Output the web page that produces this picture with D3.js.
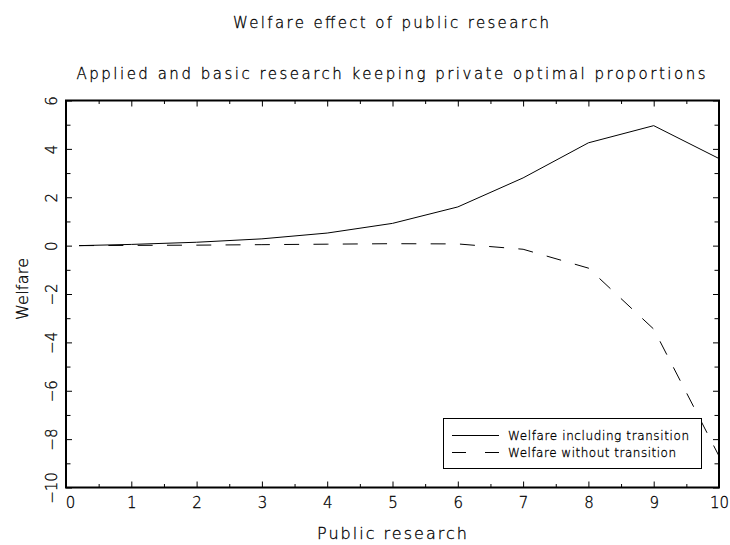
<!DOCTYPE html>
<html>
<head>
<meta charset="utf-8">
<script src="https://cdn.jsdelivr.net/npm/d3@7"></script>
<style>
  html, body { margin: 0; padding: 0; background: #fff; }
  svg text { font-family: "DejaVu Sans", "Liberation Sans", sans-serif; font-weight: 200; fill: #000; stroke: #000; stroke-width: 0.3px; }
</style>
</head>
<body>
<svg id="chart" width="730" height="545"></svg>
<script>
// Public research levels and the two welfare series
const publicResearch = [0.2, 1, 2, 3, 4, 5, 6, 7, 8, 9, 10];
const welfareIncluding = [0, 0.05, 0.14, 0.28, 0.52, 0.92, 1.6, 2.8, 4.25, 4.96, 3.6];
const welfareWithout   = [0, 0.01, 0.02, 0.04, 0.06, 0.08, 0.07, -0.15, -0.93, -3.45, -8.7];

const xMajorTicks = [0, 1, 2, 3, 4, 5, 6, 7, 8, 9, 10];
const xMinorTicks = [0.5, 1.5, 2.5, 3.5, 4.5, 5.5, 6.5, 7.5, 8.5, 9.5];
const yMajorTicks = [-10, -8, -6, -4, -2, 0, 2, 4, 6];
const yMinorTicks = [-9, -7, -5, -3, -1, 1, 3, 5];

const titleText = "Welfare effect of public research";
const subtitleText = "Applied and basic research keeping private optimal proportions";
const xTitle = "Public research";
const yTitle = "Welfare";
const seriesNames = ["Welfare including transition", "Welfare without transition"];

const svg = d3.select("#chart");
const plotLeft = 66, plotRight = 719, plotTop = 100.5, plotBottom = 487.5;

const x = d3.scaleLinear().domain([0, 10]).range([plotLeft, plotRight]);
const y = d3.scaleLinear().domain([-10, 6]).range([plotBottom, plotTop]);

const fmt = v => (v < 0 ? "\u2212" + Math.abs(v) : String(v));

// Titles
svg.append("text").attr("x", 391).attr("y", 28)
  .attr("text-anchor", "middle").attr("font-size", 15)
  .attr("textLength", 316).attr("lengthAdjust", "spacing")
  .text(titleText);
svg.append("text").attr("x", 391).attr("y", 79)
  .attr("text-anchor", "middle").attr("font-size", 15)
  .attr("textLength", 629).attr("lengthAdjust", "spacing")
  .text(subtitleText);

// Ticks pointing into the plot on all four sides
function tickAxis(axisFn, scale, values, size, tx, ty) {
  const g = svg.append("g").attr("transform", `translate(${tx},${ty})`)
    .call(axisFn(scale).tickValues(values).tickSize(size).tickFormat(""));
  g.select(".domain").remove();
  g.selectAll(".tick line").attr("stroke", "#000").attr("stroke-width", 1);
  return g;
}
tickAxis(d3.axisBottom, x, xMajorTicks, -6, 0, plotBottom);
tickAxis(d3.axisBottom, x, xMinorTicks, -3.5, 0, plotBottom);
tickAxis(d3.axisTop, x, xMajorTicks, -6, 0, plotTop);
tickAxis(d3.axisTop, x, xMinorTicks, -3.5, 0, plotTop);
tickAxis(d3.axisLeft, y, yMajorTicks, -6, plotLeft, 0);
tickAxis(d3.axisLeft, y, yMinorTicks, -4.5, plotLeft, 0);
tickAxis(d3.axisRight, y, yMajorTicks, -6, plotRight, 0);
tickAxis(d3.axisRight, y, yMinorTicks, -4.5, plotRight, 0);

// X tick labels
const xLab = svg.append("g").attr("transform", `translate(0,${plotBottom})`)
  .call(d3.axisBottom(x).tickValues(xMajorTicks).tickSize(0).tickPadding(10).tickFormat(fmt));
xLab.select(".domain").remove();
xLab.selectAll("text").attr("font-size", 15).attr("font-family", null)
  .attr("dx", d => (d === 0 ? 4 : 0));

// Y tick labels, rotated
const yLab = svg.append("g").attr("transform", `translate(${plotLeft},0)`)
  .call(d3.axisLeft(y).tickValues(yMajorTicks).tickSize(0).tickFormat(fmt));
yLab.select(".domain").remove();
yLab.selectAll("text")
  .attr("x", null).attr("dy", null)
  .attr("font-size", 15).attr("font-family", null)
  .attr("text-anchor", "middle")
  .attr("transform", "translate(-9,0) rotate(-90)");

// Axis titles
svg.append("text").attr("x", 392).attr("y", 539)
  .attr("text-anchor", "middle").attr("font-size", 16)
  .attr("textLength", 150).attr("lengthAdjust", "spacing")
  .text(xTitle);
svg.append("text")
  .attr("transform", "translate(28,289) rotate(-90)")
  .attr("text-anchor", "middle").attr("font-size", 16)
  .attr("textLength", 62).attr("lengthAdjust", "spacing")
  .text(yTitle);

// Series lines
const line = d3.line().x((d, i) => x(publicResearch[i])).y(d => y(d));
svg.append("path").datum(welfareIncluding)
  .attr("d", line).attr("fill", "none").attr("stroke", "#000").attr("stroke-width", 1);
svg.append("path").datum(welfareWithout)
  .attr("d", line).attr("fill", "none").attr("stroke", "#000").attr("stroke-width", 1)
  .attr("stroke-dasharray", "15,14.3");

// Legend
const lg = svg.append("g");
lg.append("rect").attr("x", 443.5).attr("y", 418.5).attr("width", 258).attr("height", 50)
  .attr("fill", "#fff").attr("stroke", "#000").attr("stroke-width", 1);
const legendRows = [
  { name: seriesNames[0], dash: null, yy: 435.5 },
  { name: seriesNames[1], dash: "14,19", yy: 452.5 }
];
legendRows.forEach(r => {
  const ln = lg.append("line").attr("x1", 452).attr("x2", 499)
    .attr("y1", r.yy).attr("y2", r.yy).attr("stroke", "#000").attr("stroke-width", 1);
  if (r.dash) ln.attr("stroke-dasharray", r.dash);
  lg.append("text").attr("x", 508).attr("y", r.yy + 4.5).attr("font-size", 12)
    .attr("textLength", r.name === seriesNames[0] ? 181 : 168).attr("lengthAdjust", "spacing")
    .text(r.name);
});

// Frame
svg.append("rect").attr("x", plotLeft).attr("y", plotTop).attr("width", plotRight - plotLeft).attr("height", plotBottom - plotTop)
  .attr("fill", "none").attr("stroke", "#000").attr("stroke-width", 2);
</script>
</body>
</html>
